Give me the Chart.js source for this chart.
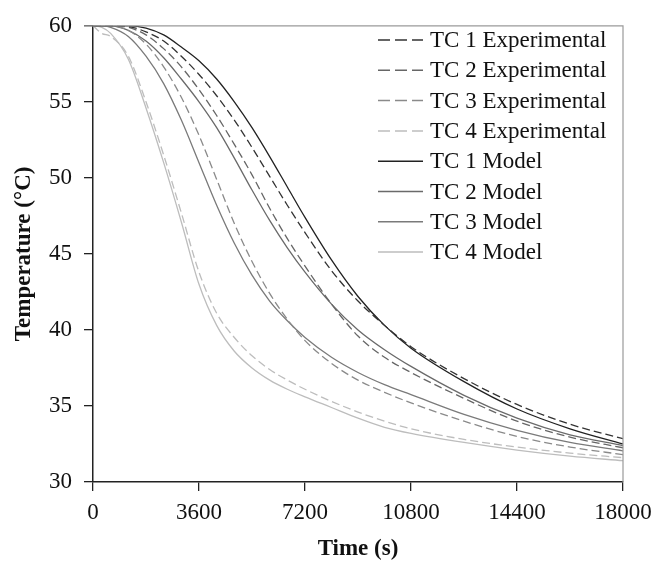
<!DOCTYPE html>
<html>
<head>
<meta charset="utf-8">
<script src="https://cdn.jsdelivr.net/npm/chart.js@4.4.1/dist/chart.umd.min.js"></script>
<style>
  html, body { margin: 0; padding: 0; background: #fff; }
  canvas { display: block; }
</style>
</head>
<body>
<canvas id="tempChart" width="667" height="568"></canvas>
<script>
// time (s) and temperatures (°C)
const times = [0, 300, 600, 1200, 1800, 2400, 3000, 3600, 4200, 4800, 5400, 6000, 6600, 7200, 8100, 9000, 9900, 10800, 12600, 14400, 16200, 18000];

const tc1Exp = [60, 60, 60, 59.95, 59.6, 59.0, 58.0, 56.8, 55.4, 53.8, 52.0, 50.1, 48.2, 46.4, 43.9, 41.9, 40.3, 38.9, 36.8, 35.1, 33.8, 32.85];
const tc2Exp = [60, 60, 60, 59.9, 59.4, 58.5, 57.3, 55.8, 54.1, 52.2, 50.2, 48.0, 46.0, 44.2, 41.7, 39.6, 38.2, 37.2, 35.5, 34.0, 32.95, 32.25];
const tc3Exp = [60, 60, 60, 59.7, 58.8, 57.3, 55.3, 52.8, 49.9, 47.0, 44.5, 42.4, 40.7, 39.3, 37.8, 36.7, 35.9, 35.2, 34.0, 33.0, 32.3, 31.8];
const tc4Exp = [60, 59.5, 59.3, 58.0, 55.0, 51.5, 47.7, 43.8, 41.1, 39.5, 38.3, 37.4, 36.7, 36.1, 35.3, 34.6, 34.0, 33.5, 32.8, 32.3, 31.9, 31.6];

const tc1Model = [60, 60, 60, 60, 59.85, 59.4, 58.6, 57.7, 56.5, 55.0, 53.3, 51.4, 49.4, 47.4, 44.6, 42.2, 40.3, 38.8, 36.6, 34.8, 33.5, 32.5];
const tc2Model = [60, 60, 60, 59.7, 59.0, 57.9, 56.5, 55.0, 53.3, 51.3, 49.2, 47.2, 45.4, 43.8, 41.7, 40.0, 38.7, 37.6, 35.7, 34.2, 33.1, 32.4];
const tc3Model = [60, 60, 59.9, 59.3, 58.0, 56.2, 53.8, 51.0, 48.2, 45.7, 43.6, 41.9, 40.6, 39.5, 38.2, 37.2, 36.4, 35.75, 34.45, 33.4, 32.6, 32.05];
const tc4Model = [60, 59.9, 59.5, 57.8, 54.6, 51.0, 47.1, 43.0, 40.3, 38.6, 37.5, 36.7, 36.1, 35.6, 34.9, 34.2, 33.6, 33.2, 32.6, 32.1, 31.7, 31.4];

const xTicks = [0, 3600, 7200, 10800, 14400, 18000];
const yTicks = [30, 35, 40, 45, 50, 55, 60];

const FONT = "'Liberation Serif', 'Times New Roman', serif";

const toPoints = (vals) => vals.map((v, i) => ({ x: times[i], y: v }));

const series = (label, vals, color, dashed) => ({
  label: label,
  data: toPoints(vals),
  borderColor: color,
  backgroundColor: color,
  borderWidth: 1.3,
  borderDash: dashed ? [8, 4] : [],
  pointRadius: 0,
  cubicInterpolationMode: "monotone",
  fill: false,
});

// legend drawn inside the plot, plus the grey top/right frame
const insideLegend = {
  id: "insideLegend",
  afterDatasetsDraw(chart) {
    const { ctx, chartArea } = chart;
    ctx.save();
    ctx.strokeStyle = "#9a9a9a";
    ctx.lineWidth = 1.2;
    ctx.beginPath();
    ctx.moveTo(chartArea.left - 9, chartArea.top);
    ctx.lineTo(chartArea.right, chartArea.top);
    ctx.lineTo(chartArea.right, chartArea.bottom);
    ctx.stroke();

    ctx.font = "23px " + FONT;
    ctx.textBaseline = "middle";
    ctx.textAlign = "left";
    chart.data.datasets.forEach((ds, i) => {
      const y = 40 + i * 30.3;
      ctx.strokeStyle = ds.borderColor;
      ctx.lineWidth = 1.5;
      ctx.setLineDash(ds.borderDash.length ? [12, 5] : []);
      ctx.beginPath();
      ctx.moveTo(378, y);
      ctx.lineTo(423, y);
      ctx.stroke();
      ctx.setLineDash([]);
      ctx.fillStyle = "#111";
      ctx.fillText(ds.label, 430, y + 1);
    });
    ctx.restore();
  },
};

new Chart(document.getElementById("tempChart"), {
  type: "line",
  data: {
    datasets: [
      series("TC 1 Experimental", tc1Exp, "#333333", true),
      series("TC 2 Experimental", tc2Exp, "#666666", true),
      series("TC 3 Experimental", tc3Exp, "#8a8a8a", true),
      series("TC 4 Experimental", tc4Exp, "#bdbdbd", true),
      series("TC 1 Model", tc1Model, "#222222", false),
      series("TC 2 Model", tc2Model, "#6a6a6a", false),
      series("TC 3 Model", tc3Model, "#7a7a7a", false),
      series("TC 4 Model", tc4Model, "#bdbdbd", false),
    ],
  },
  options: {
    responsive: false,
    devicePixelRatio: 1,
    animation: false,
    layout: { padding: { top: 14, right: 44, left: 0, bottom: 0 } },
    plugins: {
      legend: { display: false },
      tooltip: { enabled: false },
    },
    scales: {
      x: {
        type: "linear",
        min: 0,
        max: 18000,
        afterFit: (scale) => { scale.height = 86; },
        afterBuildTicks: (scale) => { scale.ticks = xTicks.map((v) => ({ value: v })); },
        grid: { drawOnChartArea: false, drawTicks: true, tickLength: 9, color: "#222", lineWidth: 1.3 },
        border: { color: "#222", width: 1.5 },
        ticks: {
          color: "#111",
          padding: 8,
          maxRotation: 0,
          font: { family: FONT, size: 23 },
          callback: (v) => String(v),
        },
        title: {
          display: true,
          text: "Time (s)",
          color: "#111",
          font: { family: FONT, size: 23, weight: "bold" },
          padding: { top: 0, bottom: 5 },
        },
      },
      y: {
        min: 30,
        max: 60,
        afterFit: (scale) => { scale.width = 93; },
        afterBuildTicks: (scale) => { scale.ticks = yTicks.map((v) => ({ value: v })); },
        grid: { drawOnChartArea: false, drawTicks: true, tickLength: 9, color: "#222", lineWidth: 1.3 },
        border: { color: "#222", width: 1.5 },
        ticks: {
          color: "#111",
          padding: 12,
          font: { family: FONT, size: 23 },
          callback: (v) => String(v),
        },
        title: {
          display: true,
          text: "Temperature (°C)",
          color: "#111",
          font: { family: FONT, size: 23, weight: "bold" },
          padding: { top: 10, bottom: 0 },
        },
      },
    },
  },
  plugins: [insideLegend],
});
</script>
</body>
</html>
